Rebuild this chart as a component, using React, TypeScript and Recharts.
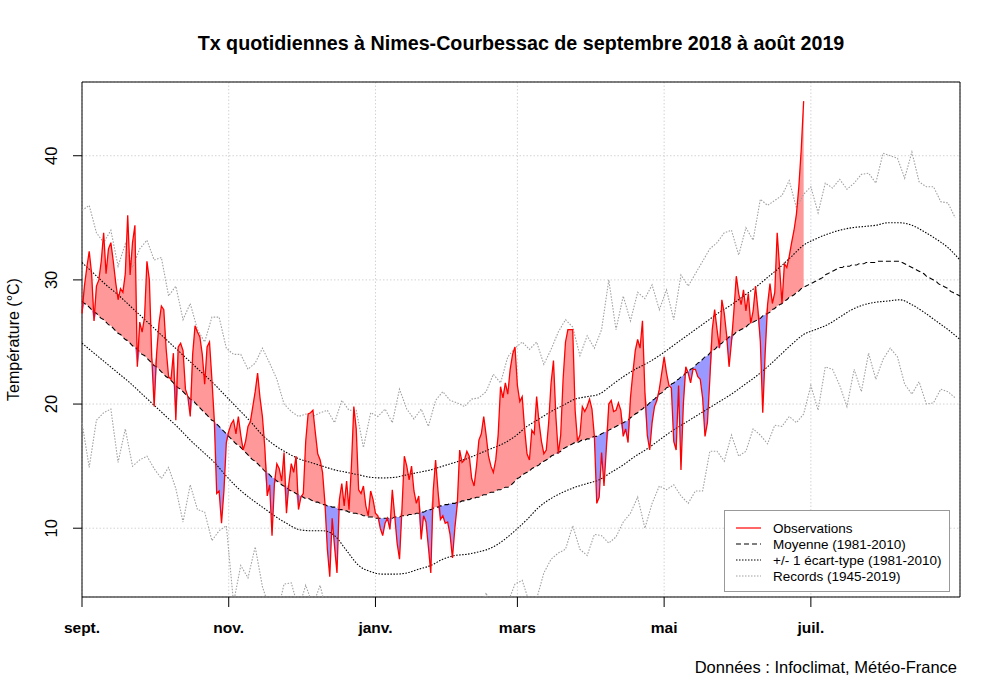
import React from 'react';
import {
  ComposedChart,
  Area,
  Line,
  XAxis,
  YAxis,
  CartesianGrid,
  ReferenceArea,
  Legend,
} from 'recharts';

const FONT = '"Liberation Sans", Arial, Helvetica, sans-serif';

// x = jours depuis le 1er septembre 2018
const monthTicks = [0, 61, 122, 181, 242, 303];
const monthLabels = ['sept.', 'nov.', 'janv.', 'mars', 'mai', 'juil.'];
const tempTicks = [10, 20, 30, 40];
const Y_MIN = 4.46;
const Y_MAX = 45.94;
const X_MAX = 365;

// Tx observées, du 1er sept. 2018 au 28 juin 2019 (un point par jour)
const observations = [
  27.3, 29.5, 31.0, 32.3, 30.5, 26.7, 29.5, 30.0, 31.5, 33.8,
  30.5, 32.5, 33.0, 31.5, 29.8, 28.4, 29.3, 29.0, 30.5, 35.2,
  30.4, 33.0, 34.4, 23.0, 26.6, 25.8, 27.0, 31.5, 30.0, 23.8,
  19.8, 24.0, 26.5, 27.9, 27.6, 24.4, 22.2, 22.0, 24.1, 18.7,
  24.6, 24.9, 24.3, 21.2, 20.6, 19.0, 24.0, 26.3, 25.8, 25.4,
  24.0, 21.6, 24.6, 25.0, 22.0, 18.7, 12.8, 13.0, 10.4, 13.0,
  16.9, 17.8, 18.4, 18.7, 17.6, 19.0, 17.5, 16.3, 17.0, 18.2,
  18.6, 19.8, 21.0, 22.5, 20.5, 19.0, 16.5, 12.6, 13.5, 9.4,
  13.6, 15.2, 14.8, 13.8, 16.1, 11.2, 13.6, 15.2, 14.5, 15.8,
  11.5, 12.5, 12.8, 17.0, 19.2, 19.3, 19.5, 17.7, 16.0, 15.5,
  14.5, 12.0, 8.3, 6.1, 10.8, 8.5, 6.4, 12.3, 13.6, 11.8,
  13.8, 11.5, 15.0, 19.8, 18.0, 13.1, 12.8, 13.4, 11.8, 11.0,
  13.0, 12.3, 11.2, 11.0, 10.0, 9.4, 10.4, 10.8, 9.9, 13.1,
  11.0, 8.8, 7.5, 11.5, 15.8, 15.0, 13.9, 15.0, 13.0, 12.0,
  12.6, 9.1, 11.0, 10.5, 8.5, 6.4, 13.0, 15.5, 13.0, 10.7,
  11.0, 10.4, 10.5, 9.5, 7.6, 10.0, 11.9, 16.3, 15.3, 15.5,
  16.2, 15.8, 14.0, 13.4, 15.0, 17.1, 17.6, 19.0, 17.5, 15.8,
  15.0, 14.5, 15.5, 17.5, 21.4, 20.5, 21.7, 20.8, 22.8, 24.0,
  24.6, 21.5, 20.2, 20.6, 18.0, 16.0, 15.5, 17.9, 17.6, 20.6,
  18.5, 17.0, 16.0, 16.3, 18.5, 21.7, 23.5, 19.0, 16.0, 17.5,
  22.0, 25.0, 26.0, 26.0, 26.0, 19.5, 17.0, 17.5, 19.8, 19.4,
  19.8, 20.4, 19.6, 17.4, 12.0, 12.5, 16.1, 13.4, 16.5, 20.0,
  20.3, 19.4, 19.5, 20.1, 19.5, 17.4, 18.0, 16.9, 20.5, 22.5,
  24.3, 25.2, 24.5, 26.7, 21.0, 17.5, 16.3, 18.5, 19.8, 20.3,
  21.2, 22.5, 23.8, 22.5, 21.5, 21.3, 17.0, 16.3, 21.5, 14.7,
  20.0, 23.0, 22.5, 21.7, 22.8, 22.8, 22.2, 22.0, 20.5, 17.4,
  18.5, 22.0, 26.0, 27.6, 26.0, 24.5, 28.4, 27.3, 25.5, 23.0,
  25.0, 27.5, 30.3, 28.9, 28.0, 29.2, 27.5, 28.9, 26.5, 27.5,
  29.5, 27.6, 25.0, 19.3, 24.1, 28.0, 29.7, 28.1, 29.0, 33.8,
  31.0, 28.1, 31.3, 31.0, 31.9, 33.0, 34.0, 35.3, 37.5, 40.5,
  44.4,
];

// Moyenne 1981-2010, un point par jour
const normalMean = [
  28.3, 28.1, 28.0, 27.8, 27.6, 27.4, 27.3, 27.1, 26.9, 26.8,
  26.6, 26.4, 26.3, 26.1, 25.9, 25.7, 25.6, 25.4, 25.2, 25.1,
  24.9, 24.7, 24.6, 24.4, 24.2, 24.0, 23.9, 23.7, 23.5, 23.3,
  23.1, 23.0, 22.8, 22.6, 22.4, 22.2, 22.1, 21.9, 21.7, 21.5,
  21.3, 21.2, 21.0, 20.8, 20.6, 20.4, 20.3, 20.1, 19.9, 19.7,
  19.5, 19.3, 19.1, 18.9, 18.7, 18.6, 18.4, 18.2, 18.0, 17.8,
  17.6, 17.4, 17.2, 17.0, 16.8, 16.7, 16.5, 16.3, 16.1, 15.9,
  15.7, 15.5, 15.4, 15.2, 15.0, 14.8, 14.6, 14.5, 14.3, 14.1,
  14.0, 13.8, 13.7, 13.5, 13.4, 13.3, 13.1, 13.0, 12.9, 12.8,
  12.7, 12.6, 12.5, 12.4, 12.4, 12.3, 12.2, 12.1, 12.1, 12.0,
  11.9, 11.9, 11.8, 11.8, 11.7, 11.7, 11.6, 11.5, 11.5, 11.4,
  11.4, 11.3, 11.3, 11.2, 11.2, 11.1, 11.1, 11.0, 11.0, 10.9,
  10.9, 10.9, 10.8, 10.8, 10.8, 10.8, 10.8, 10.8, 10.8, 10.8,
  10.9, 10.9, 10.9, 11.0, 11.0, 11.0, 11.1, 11.1, 11.1, 11.2,
  11.2, 11.3, 11.3, 11.4, 11.5, 11.5, 11.6, 11.7, 11.7, 11.8,
  11.8, 11.9, 11.9, 12.0, 12.0, 12.0, 12.1, 12.1, 12.2, 12.2,
  12.3, 12.3, 12.4, 12.4, 12.5, 12.5, 12.6, 12.7, 12.7, 12.8,
  12.9, 12.9, 13.0, 13.1, 13.1, 13.2, 13.3, 13.3, 13.4, 13.6,
  13.8, 14.0, 14.1, 14.3, 14.4, 14.5, 14.6, 14.8, 14.9, 15.0,
  15.1, 15.3, 15.4, 15.5, 15.6, 15.8, 15.9, 16.0, 16.1, 16.2,
  16.4, 16.5, 16.6, 16.7, 16.8, 16.9, 16.9, 17.0, 17.1, 17.1,
  17.2, 17.2, 17.3, 17.4, 17.4, 17.5, 17.6, 17.7, 17.8, 17.9,
  18.0, 18.1, 18.2, 18.3, 18.4, 18.5, 18.6, 18.7, 18.9, 19.0,
  19.2, 19.3, 19.5, 19.6, 19.8, 19.9, 20.1, 20.3, 20.4, 20.6,
  20.8, 20.9, 21.1, 21.3, 21.4, 21.6, 21.7, 21.9, 22.0, 22.2,
  22.3, 22.5, 22.6, 22.8, 22.9, 23.1, 23.3, 23.4, 23.6, 23.8,
  23.9, 24.1, 24.3, 24.4, 24.6, 24.8, 24.9, 25.1, 25.2, 25.4,
  25.5, 25.6, 25.8, 25.9, 26.0, 26.1, 26.2, 26.4, 26.5, 26.6,
  26.7, 26.8, 26.9, 27.1, 27.2, 27.3, 27.4, 27.6, 27.7, 27.9,
  28.0, 28.1, 28.3, 28.4, 28.6, 28.7, 28.8, 29.0, 29.1, 29.3,
  29.4, 29.5, 29.6, 29.7, 29.8, 29.9, 30.0, 30.1, 30.2, 30.4,
  30.5, 30.6, 30.7, 30.8, 30.9, 31.0, 31.0, 31.1, 31.1, 31.1,
  31.2, 31.2, 31.2, 31.3, 31.3, 31.3, 31.4, 31.4, 31.4, 31.4,
  31.4, 31.5, 31.5, 31.5, 31.5, 31.5, 31.5, 31.5, 31.5, 31.5,
  31.5, 31.4, 31.3, 31.2, 31.1, 31.0, 30.9, 30.8, 30.7, 30.6,
  30.5, 30.3, 30.2, 30.1, 30.0, 29.9, 29.7, 29.6, 29.5, 29.4,
  29.3, 29.1, 29.0, 28.9, 28.8, 28.7,
];

// +/- 1 écart-type, un point tous les 5 jours
const SD_STEP = 5;
const sdUpper = [
  31.4, 30.5, 29.6, 28.8, 27.9, 27.0, 26.1, 25.2, 24.3, 23.4,
  22.5, 21.6, 20.6, 19.6, 18.6, 17.5, 16.7, 16.1, 15.6, 15.3,
  15.0, 14.7, 14.5, 14.3, 14.1, 14.05, 14.1, 14.3, 14.5, 14.7,
  15.0, 15.3, 15.6, 16.0, 16.4, 16.8, 17.4, 18.2, 18.8, 19.4,
  19.9, 20.4, 20.6, 20.8, 21.5, 22.2, 22.8, 23.3, 23.9, 24.6,
  25.3, 26.0, 26.7, 27.4, 28.0, 28.7, 29.4, 30.2, 31.0, 31.9,
  32.8, 33.3, 33.7, 34.0, 34.2, 34.3, 34.4, 34.6, 34.6, 34.4,
  33.9, 33.3, 32.6, 31.6,
];
const sdLower = [
  24.9, 24.1, 23.3, 22.5, 21.7, 20.8, 19.9, 19.0, 18.1, 17.1,
  16.2, 15.3, 14.2, 13.2, 12.4, 11.7, 11.0, 10.4, 9.9, 9.8,
  9.8, 9.4, 8.2, 7.0, 6.5, 6.3, 6.3, 6.4, 6.7, 7.0,
  7.5, 7.8, 7.9, 8.1, 8.4, 9.0, 9.8, 10.7, 11.7, 12.4,
  12.9, 13.3, 13.6, 13.9, 14.5, 15.1, 15.8, 16.4, 17.1, 17.8,
  18.4, 19.0, 19.6, 20.2, 20.8, 21.5, 22.2, 23.0, 23.9, 24.8,
  25.6, 26.0, 26.4, 27.0, 27.6, 28.0, 28.2, 28.3, 28.4, 28.0,
  27.4, 26.7, 26.0, 25.2,
];

// Records 1945-2019, un point tous les 3 jours
const REC_STEP = 3;
const recordMax = [
  35.6, 36.0, 33.8, 33.0, 34.0, 31.1, 32.9, 31.0, 32.5, 33.2,
  31.6, 31.8, 28.7, 29.5, 26.8, 28.1, 26.0, 25.0, 27.0, 27.0,
  24.5, 24.0, 24.0, 22.8, 23.3, 24.5, 23.3, 22.0, 20.0, 19.4,
  19.0, 19.2, 19.0, 19.3, 19.5, 18.5, 20.3, 19.5, 19.5, 16.5,
  19.3, 19.0, 19.6, 18.5, 21.2, 19.6, 18.8, 19.6, 18.2, 20.3,
  21.0, 20.3, 20.1, 19.8, 20.4, 20.5, 21.0, 22.4, 21.7, 23.8,
  24.5, 25.0, 24.4, 25.0, 23.2, 24.4, 25.8, 26.8, 26.2, 23.9,
  25.5, 24.5, 26.0, 30.0, 26.0, 28.7, 26.7, 29.0, 28.5, 29.6,
  27.6, 29.2, 26.8, 30.4, 29.5, 30.5, 31.5, 32.5, 33.0, 33.8,
  34.0, 32.0, 34.2, 33.2, 36.5, 36.0, 36.4, 36.8, 38.0, 35.8,
  36.9, 37.5, 35.4, 37.8, 37.4, 38.1, 37.3, 37.8, 38.5, 38.6,
  37.8, 40.2, 40.0, 39.8, 38.2, 40.3, 37.9, 37.5, 37.5, 36.3,
  36.2, 35.0,
];
const recordMin = [
  18.5, 14.9, 18.7, 19.3, 19.6, 15.3, 18.0, 15.0, 15.5, 15.8,
  14.8, 14.0, 14.9, 13.2, 10.5, 13.5, 11.5, 11.3, 9.0, 9.8,
  10.2, 4.0, 7.0, 6.0, 8.5, 5.3, 3.5, 3.0, 5.5, 5.6,
  3.5, 5.4, 3.8, 5.4, 3.0, 2.5, 1.5, 2.8, 1.0, 2.2,
  0.5, 1.8, 0.0, 1.5, 2.5, 1.0, 0.2, 2.0, 1.2, 2.6,
  1.0, 2.2, 3.0, 1.8, 3.2, 2.5, 4.8, 3.0, 3.5, 4.0,
  5.5, 5.8, 4.0, 4.3, 6.4, 7.5, 8.0, 8.3, 10.2, 8.3,
  7.8, 9.5, 9.4, 8.8, 9.3, 10.5, 11.2, 12.5, 10.0, 12.0,
  13.4, 13.1, 13.5, 12.6, 12.0, 13.0, 13.0, 16.2, 16.2, 15.4,
  17.5, 15.8, 16.2, 18.0, 17.5, 16.8, 18.3, 18.2, 19.0, 18.5,
  19.2, 21.5, 19.5, 23.0, 22.8, 21.5, 19.8, 22.8, 21.0, 24.1,
  22.0, 23.6, 24.5, 23.8, 21.6, 20.8, 21.8, 20.0, 20.1, 21.2,
  21.0, 20.5,
];

const pick = (arr: number[], step: number, d: number) =>
  d % step === 0 && d / step < arr.length ? arr[d / step] : null;

const rows = normalMean.map((mean, d) => {
  const obs = d < observations.length ? observations[d] : null;
  return {
    d,
    mean,
    obs,
    hot: obs == null ? null : [mean, Math.max(obs, mean)],
    cold: obs == null ? null : [Math.min(obs, mean), mean],
    up: pick(sdUpper, SD_STEP, d),
    lo: pick(sdLower, SD_STEP, d),
    rmax: pick(recordMax, REC_STEP, d),
    rmin: pick(recordMin, REC_STEP, d),
  };
});

const legendItems = [
  { label: 'Observations', color: '#ff0000', dash: undefined },
  { label: 'Moyenne (1981-2010)', color: '#000000', dash: '5 3' },
  { label: '+/- 1 écart-type (1981-2010)', color: '#000000', dash: '1.5 1.5' },
  { label: 'Records (1945-2019)', color: '#a0a0a0', dash: '1.5 1.5' },
];

const MonthTick = ({ x, payload }: any) => (
  <text x={x} y={633} textAnchor="middle" fontFamily={FONT} fontSize={15.5} fontWeight="bold" fill="#000">
    {monthLabels[monthTicks.indexOf(payload.value)]}
  </text>
);

const TempTick = ({ y, payload }: any) => (
  <text
    x={57}
    y={y}
    transform={`rotate(-90 57 ${y})`}
    textAnchor="middle"
    fontFamily={FONT}
    fontSize={16.5}
    fill="#000"
  >
    {payload.value}
  </text>
);

const LegendBox = () => (
  <svg width={226} height={82}>
    <rect x={0.5} y={0.5} width={225} height={81} fill="#fff" stroke="#999" />
    {legendItems.map((it, i) => {
      const cy = 18 + i * 16;
      return (
        <g key={it.label}>
          <line x1={12} x2={37} y1={cy} y2={cy} stroke={it.color} strokeWidth={1.2} strokeDasharray={it.dash} />
          <text x={49} y={cy + 4.8} fontFamily={FONT} fontSize={13.5} fill="#000">
            {it.label}
          </text>
        </g>
      );
    })}
  </svg>
);

export default function App() {
  return (
    <div style={{ position: 'absolute', left: 0, top: 0, width: 1000, height: 699, background: '#fff' }}>
      <ComposedChart
        width={1000}
        height={699}
        data={rows}
        margin={{ top: 82, right: 40, bottom: 62, left: 0 }}
      >
        <CartesianGrid stroke="#d3d3d3" strokeDasharray="1.5 2" />
        <XAxis
          dataKey="d"
          type="number"
          domain={[0, X_MAX]}
          ticks={monthTicks}
          interval={0}
          height={40}
          tickSize={10}
          axisLine={false}
          tickLine={{ stroke: '#000' }}
          tick={<MonthTick />}
        />
        <YAxis
          type="number"
          domain={[Y_MIN, Y_MAX]}
          allowDataOverflow
          ticks={tempTicks}
          interval={0}
          width={82}
          tickSize={9}
          axisLine={false}
          tickLine={{ stroke: '#000' }}
          tick={<TempTick />}
        />
        <Area dataKey="hot" type="linear" stroke="none" fill="#ff9999" fillOpacity={1} isAnimationActive={false} />
        <Area dataKey="cold" type="linear" stroke="none" fill="#9999ff" fillOpacity={1} isAnimationActive={false} />
        <Line dataKey="rmax" type="linear" connectNulls stroke="#a0a0a0" strokeWidth={1.1} strokeDasharray="1.5 1.5" dot={false} isAnimationActive={false} />
        <Line dataKey="rmin" type="linear" connectNulls stroke="#a0a0a0" strokeWidth={1.1} strokeDasharray="1.5 1.5" dot={false} isAnimationActive={false} />
        <Line dataKey="up" type="monotone" connectNulls stroke="#000" strokeWidth={1.1} strokeDasharray="1.5 1.5" dot={false} isAnimationActive={false} />
        <Line dataKey="lo" type="monotone" connectNulls stroke="#000" strokeWidth={1.1} strokeDasharray="1.5 1.5" dot={false} isAnimationActive={false} />
        <Line dataKey="mean" type="monotone" stroke="#000" strokeWidth={1.1} strokeDasharray="5 3" dot={false} isAnimationActive={false} />
        <Line dataKey="obs" type="linear" stroke="#ff0000" strokeWidth={1.3} dot={false} isAnimationActive={false} />
        <ReferenceArea x1={0} x2={X_MAX} y1={Y_MIN} y2={Y_MAX} fill="none" stroke="#000" strokeWidth={1} ifOverflow="visible" />
        <Legend
          layout="vertical"
          align="center"
          verticalAlign="middle"
          content={<LegendBox />}
          wrapperStyle={{ left: 724, top: 510, width: 226, height: 82 }}
        />
      </ComposedChart>
      <svg
        width={1000}
        height={699}
        style={{ position: 'absolute', left: 0, top: 0, pointerEvents: 'none' }}
      >
        <text x={521} y={50} textAnchor="middle" fontFamily={FONT} fontSize={19.7} fontWeight="bold" fill="#000">
          Tx quotidiennes à Nimes-Courbessac de septembre 2018 à août 2019
        </text>
        <text
          x={19}
          y={339.5}
          transform="rotate(-90 19 339.5)"
          textAnchor="middle"
          fontFamily={FONT}
          fontSize={16}
          fill="#000"
        >
          Température (°C)
        </text>
        <text x={957} y={673} textAnchor="end" fontFamily={FONT} fontSize={16.5} fill="#000">
          Données : Infoclimat, Météo-France
        </text>
      </svg>
    </div>
  );
}
